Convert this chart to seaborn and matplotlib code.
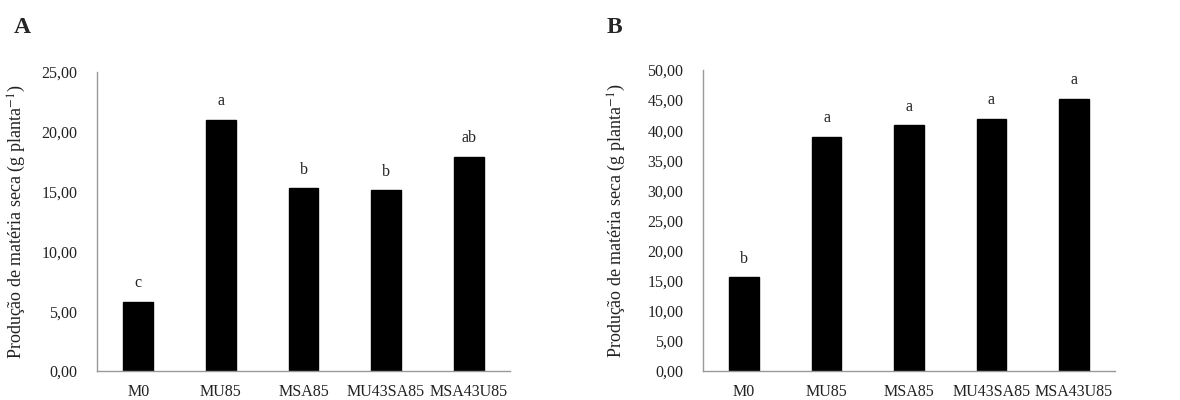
import matplotlib
matplotlib.use("Agg")
import matplotlib.pyplot as plt
import seaborn as sns
import pandas as pd
from matplotlib.ticker import FuncFormatter, MultipleLocator

categories = ["M0", "MU85", "MSA85", "MU43SA85", "MSA43U85"]
values_a = [5.8, 21.0, 15.3, 15.1, 17.9]
letters_a = ["c", "a", "b", "b", "ab"]
values_b = [15.6, 38.9, 40.8, 41.9, 45.2]
letters_b = ["b", "a", "a", "a", "a"]

sns.set_theme(style="white")
plt.rcParams["font.family"] = ["Liberation Serif", "DejaVu Serif"]
plt.rcParams["mathtext.fontset"] = "stix"

fig = plt.figure(figsize=(11.8, 4.0), dpi=100)
ax_a = fig.add_axes([97/1180, 29/400, (510-97)/1180, (371-72)/400])
ax_b = fig.add_axes([703/1180, 29/400, (1115-703)/1180, (371-70)/400])

fmt = FuncFormatter(lambda v, p: f"{v:.2f}".replace(".", ","))

def draw(ax, vals, lets, ymax, step, label_x):
    df = pd.DataFrame({"cat": categories, "val": vals})
    sns.barplot(data=df, x="cat", y="val", color="black", width=0.36,
                saturation=1, ax=ax, edgecolor="black")
    ax.set_ylim(0, ymax)
    ax.yaxis.set_major_locator(MultipleLocator(step))
    ax.yaxis.set_major_formatter(fmt)
    ax.set_xlabel("")
    ax.set_ylabel("Produção de matéria seca (g planta$^{-1}$)", fontsize=13, color="#222222")
    ax.yaxis.set_label_coords(label_x, 0.5)
    ax.tick_params(axis="both", length=0, labelsize=11.5, colors="#222222")
    ax.tick_params(axis="y", pad=14)
    ax.tick_params(axis="x", pad=9)
    for s in ["top", "right"]:
        ax.spines[s].set_visible(False)
    for s in ["left", "bottom"]:
        ax.spines[s].set_color("#999999")
        ax.spines[s].set_linewidth(1.0)
    off = ymax * 0.035
    for i, (v, l) in enumerate(zip(vals, lets)):
        ax.text(i, v + off, l, ha="center", va="bottom", fontsize=11.5, color="#222222")

draw(ax_a, values_a, letters_a, 25, 5, (28-97)/413)
draw(ax_b, values_b, letters_b, 50, 5, (628-703)/412)

fig.text(14/1180, 1-33/400, "A", fontsize=17, fontweight="bold", ha="left", va="baseline")
fig.text(607/1180, 1-33/400, "B", fontsize=17, fontweight="bold", ha="left", va="baseline")

fig.savefig("out.png", dpi=100, facecolor="white")
